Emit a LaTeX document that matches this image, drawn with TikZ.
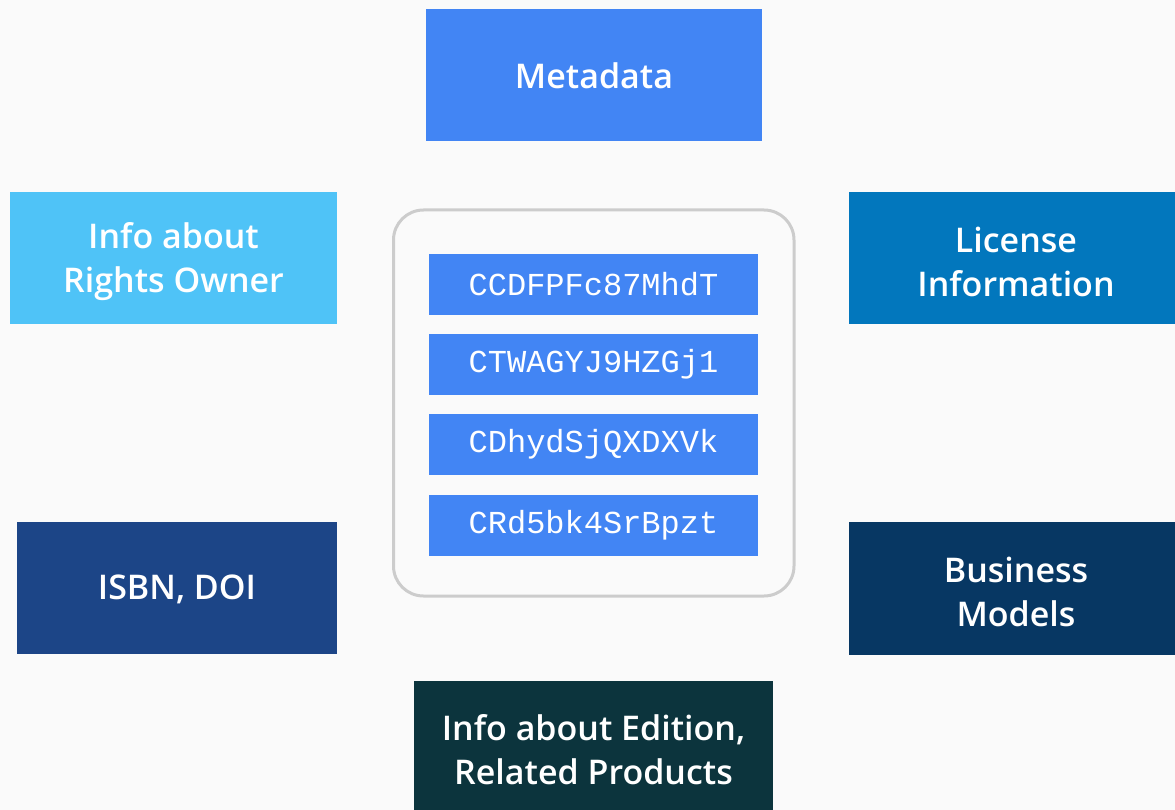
\documentclass[tikz,border=0pt]{standalone}
\usepackage{fontspec}
\setmainfont{Open Sans}[BoldFont={Open Sans Semibold}]
\setmonofont{Liberation Mono}
\definecolor{bg}{HTML}{FAFAFA}
\definecolor{cMeta}{HTML}{4285F4}
\definecolor{cRights}{HTML}{4FC3F7}
\definecolor{cLicense}{HTML}{0277BD}
\definecolor{cIsbn}{HTML}{1C4587}
\definecolor{cBusiness}{HTML}{073763}
\definecolor{cEdition}{HTML}{0C343D}
\definecolor{cFrame}{HTML}{CCCCCC}
\begin{document}
\begin{tikzpicture}[x=1pt,y=-1pt,
  infobox/.style={fill=#1, inner sep=0pt},
  infotext/.style={text=white, inner sep=0pt, align=center,
    font=\fontsize{34}{44}\selectfont\bfseries},
  codebar/.style={fill=cMeta, text=white, inner sep=0pt,
    minimum width=329pt, minimum height=61pt,
    font=\fontsize{32}{36}\selectfont\ttfamily}]
\fill[bg] (0,0) rectangle (1175,810);
\useasboundingbox (0,0) rectangle (1175,810);
\node[infobox=cMeta, minimum width=336pt, minimum height=132pt] (meta) at (594,75) {};
\node[infobox=cRights, minimum width=327pt, minimum height=132pt] (rights) at (173.5,258) {};
\node[infobox=cLicense, minimum width=326pt, minimum height=132pt] (license) at (1012,258) {};
\node[infobox=cIsbn, minimum width=320pt, minimum height=132pt] (isbn) at (177,588) {};
\node[infobox=cBusiness, minimum width=326pt, minimum height=133pt] (business) at (1012,588.5) {};
\node[infobox=cEdition, minimum width=359pt, minimum height=132pt] (edition) at (593.5,747) {};
\node[infotext] (metaT) at ([yshift=-1pt]meta.center) {Metadata};
\node[infotext] (rightsT) at ([yshift=-4pt]rights.center) {Info about\\Rights Owner};
\node[infotext] (licenseT) at ([xshift=4pt,yshift=-4pt]license.center) {License\\Information};
\node[infotext] (isbnT) at ([yshift=-1pt]isbn.center) {ISBN, DOI};
\node[infotext] (businessT) at ([xshift=4pt,yshift=-3pt]business.center) {Business\\Models};
\node[infotext] (editionT) at ([yshift=-3pt]edition.center) {Info about Edition,\\Related Products};
\draw[cFrame, line width=3pt, rounded corners=30pt] (393.5,210) rectangle (794,596);
\node[codebar] (c1) at (593.5,284.5) {CCDFPFc87MhdT};
\node[codebar] (c2) at (593.5,364.5) {CTWAGYJ9HZGj1};
\node[codebar] (c3) at (593.5,444.5) {CDhydSjQXDXVk};
\node[codebar] (c4) at (593.5,525.5) {CRd5bk4SrBpzt};
\end{tikzpicture}
\end{document}
